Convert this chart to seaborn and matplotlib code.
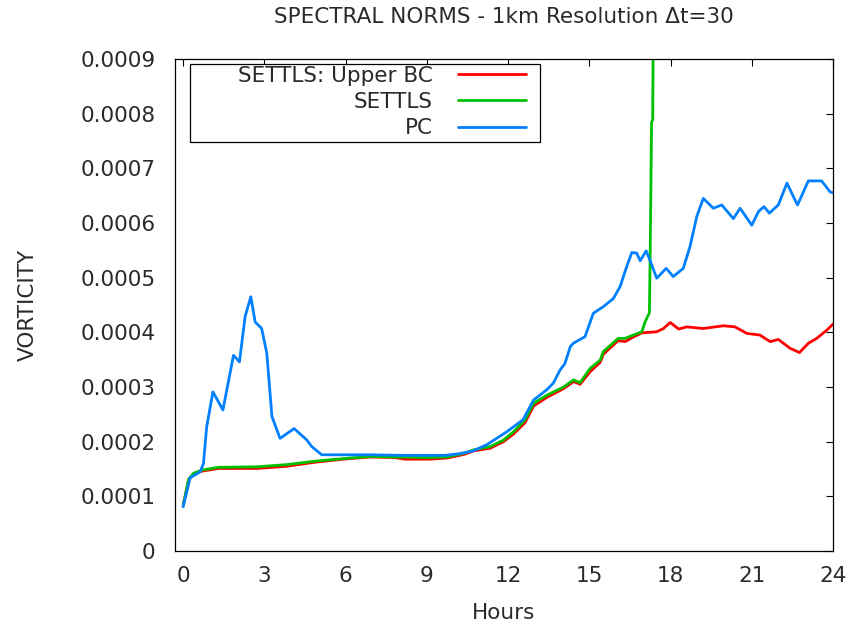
import matplotlib
matplotlib.use("Agg")
import matplotlib.pyplot as plt
from matplotlib.patches import Rectangle
import pandas as pd
import seaborn as sns

# --- series data (hours, vorticity norm) ---
pc_hours = [0.00, 0.26, 0.63, 0.75, 0.87, 1.10, 1.47, 1.86, 2.08, 2.29, 2.50, 2.66, 2.90,
            3.09, 3.28, 3.58, 4.10, 4.57, 4.75, 5.12, 6.04, 6.90, 8.00, 9.70, 10.20, 10.70,
            11.20, 11.95, 12.55, 12.94, 13.43, 13.67, 13.92, 14.10, 14.30, 14.41, 14.84,
            15.15, 15.52, 15.89, 16.14, 16.38, 16.57, 16.75, 16.88, 17.10, 17.24, 17.49,
            17.84, 18.10, 18.47, 18.72, 18.97, 19.21, 19.58, 19.89, 20.32, 20.57, 21.00,
            21.25, 21.45, 21.65, 21.98, 22.30, 22.54, 22.69, 23.09, 23.58, 23.89, 24.00]
pc_vals = [0.000081, 0.000134, 0.000145, 0.000160, 0.000227, 0.000291, 0.000258, 0.000358,
           0.000346, 0.000429, 0.000465, 0.000419, 0.000407, 0.000362, 0.000246, 0.000206,
           0.000224, 0.000203, 0.000191, 0.000176, 0.000176, 0.000176, 0.000175, 0.000175,
           0.000178, 0.000183, 0.000194, 0.000218, 0.000240, 0.000276, 0.000295, 0.000307,
           0.000331, 0.000343, 0.000374, 0.000380, 0.000392, 0.000435, 0.000447, 0.000462,
           0.000484, 0.000520, 0.000546, 0.000545, 0.000531, 0.000549, 0.000532, 0.000499,
           0.000517, 0.000502, 0.000517, 0.000557, 0.000612, 0.000645, 0.000627, 0.000633,
           0.000608, 0.000627, 0.000596, 0.000621, 0.000630, 0.000618, 0.000633, 0.000673,
           0.000648, 0.000633, 0.000677, 0.000677, 0.000657, 0.000655]

ubc_hours = [0.00, 0.20, 0.38, 0.69, 1.30, 2.72, 3.83, 4.81, 5.92, 6.90, 7.80, 8.20, 9.10,
             9.74, 10.40, 10.72, 11.34, 11.83, 12.20, 12.63, 12.94, 13.43, 14.05, 14.42,
             14.66, 15.03, 15.40, 15.52, 16.07, 16.32, 16.57, 16.94, 17.49, 17.74, 17.99,
             18.30, 18.60, 19.21, 19.95, 20.38, 20.82, 21.30, 21.68, 21.98, 22.41, 22.76,
             23.09, 23.40, 23.77, 24.00]
ubc_vals = [0.000083, 0.000130, 0.000141, 0.000146, 0.000151, 0.000151, 0.000155, 0.000162,
            0.000168, 0.000172, 0.000171, 0.000168, 0.000168, 0.000170, 0.000177, 0.000183,
            0.000188, 0.000200, 0.000214, 0.000235, 0.000265, 0.000281, 0.000297, 0.000310,
            0.000305, 0.000328, 0.000345, 0.000360, 0.000385, 0.000383, 0.000390, 0.000399,
            0.000401, 0.000407, 0.000418, 0.000406, 0.000410, 0.000407, 0.000412, 0.000410,
            0.000398, 0.000395, 0.000383, 0.000387, 0.000371, 0.000363, 0.000380, 0.000389,
            0.000404, 0.000415]

settls_hours = [0.00, 0.20, 0.38, 0.69, 1.30, 2.72, 3.83, 4.81, 5.92, 6.90, 7.80, 9.10, 9.74,
                10.40, 10.72, 11.34, 11.83, 12.20, 12.63, 12.94, 13.43, 14.05, 14.42, 14.66,
                15.03, 15.40, 15.52, 16.07, 16.32, 16.57, 16.94, 17.06, 17.22, 17.25, 17.30,
                17.34, 17.37]
settls_vals = [0.000082, 0.000131, 0.000142, 0.000148, 0.000153, 0.000154, 0.000158, 0.000164,
               0.000169, 0.000173, 0.000172, 0.000171, 0.000172, 0.000179, 0.000185, 0.000191,
               0.000203, 0.000218, 0.000240, 0.000270, 0.000285, 0.000300, 0.000313, 0.000308,
               0.000334, 0.000349, 0.000365, 0.000389, 0.000389, 0.000394, 0.000401, 0.000419,
               0.000436, 0.000550, 0.000785, 0.000788, 0.001000]

series_names = ["SETTLS: Upper BC", "SETTLS", "PC"]
series_colors = ["#ff0000", "#00c000", "#0080ff"]
x_ticks = [0, 3, 6, 9, 12, 15, 18, 21, 24]
y_ticks = [0, 0.0001, 0.0002, 0.0003, 0.0004, 0.0005, 0.0006, 0.0007, 0.0008, 0.0009]
y_tick_labels = ["0", "0.0001", "0.0002", "0.0003", "0.0004", "0.0005",
                 "0.0006", "0.0007", "0.0008", "0.0009"]

df = pd.concat([
    pd.DataFrame({"Hours": ubc_hours, "VORTICITY": ubc_vals, "run": series_names[0]}),
    pd.DataFrame({"Hours": settls_hours, "VORTICITY": settls_vals, "run": series_names[1]}),
    pd.DataFrame({"Hours": pc_hours, "VORTICITY": pc_vals, "run": series_names[2]}),
], ignore_index=True)

sns.set_style("white")
plt.rcParams["font.family"] = ["DejaVu Sans"]
FS = 15.5
TXT = "#2a2a2a"

fig = plt.figure(figsize=(8.48, 6.24), dpi=100)
ax = fig.add_axes([175 / 848, 1 - 551 / 624, (833 - 175) / 848, (551 - 59) / 624])

sns.lineplot(data=df, x="Hours", y="VORTICITY", hue="run", hue_order=series_names,
             palette=dict(zip(series_names, series_colors)), sort=False, estimator=None,
             linewidth=2.0, ax=ax, legend=False)

ax.set_xlim(-0.3, 24)
ax.set_ylim(0, 0.0009)
ax.set_xticks(x_ticks)
ax.set_xticklabels([str(t) for t in x_ticks])
ax.set_yticks(y_ticks)
ax.set_yticklabels(y_tick_labels)
ax.tick_params(axis="both", direction="in", length=5, width=0.8, color="black",
               top=True, right=True, labelsize=FS, labelcolor=TXT)
ax.tick_params(axis="x", pad=11)
ax.tick_params(axis="y", pad=14)
for sp in ax.spines.values():
    sp.set_visible(True)
    sp.set_color("black")
    sp.set_linewidth(0.9)

ax.set_xlabel("Hours", fontsize=FS, color=TXT, labelpad=12)
ax.set_ylabel("VORTICITY", fontsize=FS, color=TXT, labelpad=31)
ax.set_title("SPECTRAL NORMS - 1km Resolution \u0394t=30", fontsize=FS, color=TXT, pad=26)

# legend: framed box with right-justified labels followed by line samples
ax.add_patch(Rectangle((15 / 658, 1 - 83 / 492), 350 / 658, 78 / 492,
                       transform=ax.transAxes, facecolor="white", edgecolor="black",
                       linewidth=0.9, zorder=4))
handles = ax.get_lines()[:3]
leg = ax.legend(handles, series_names, loc="upper right",
                bbox_to_anchor=((526 - 175) / 658, 1 - 7.0 / 492),
                frameon=False, markerfirst=False, borderpad=0, borderaxespad=0,
                handlelength=68 / (FS * 100 / 72), handletextpad=25 / (FS * 100 / 72),
                labelspacing=0.28, fontsize=FS)
for t in leg.get_texts():
    t.set_color(TXT)
leg.set_zorder(5)
for col in leg._legend_handle_box.get_children():
    col.align = "right"

fig.savefig("out.png", dpi=100)
